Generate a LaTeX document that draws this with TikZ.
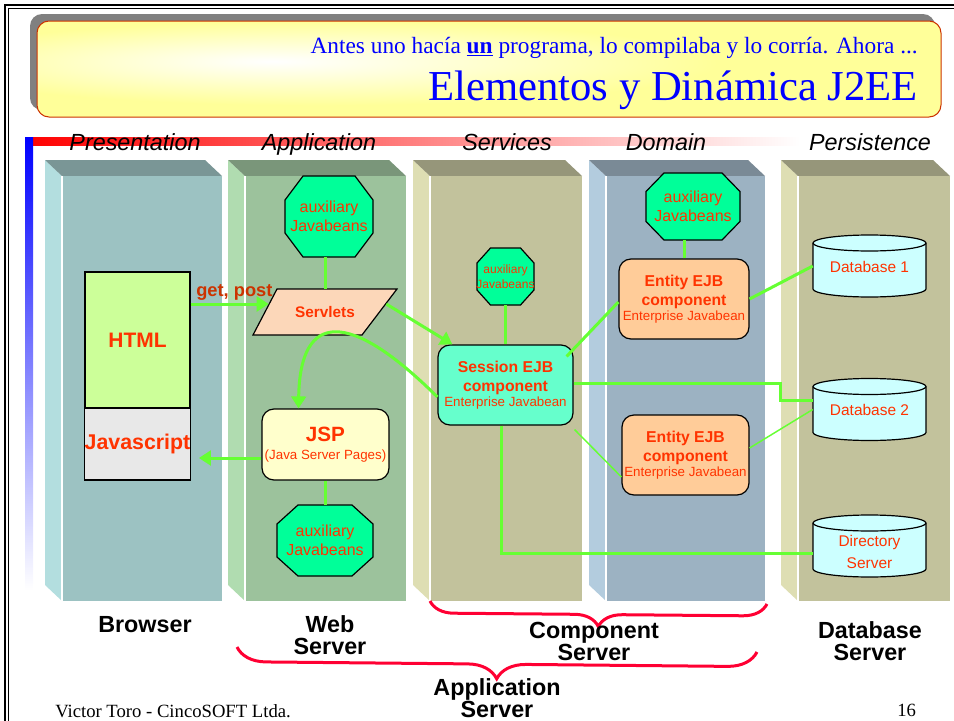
\documentclass[tikz,border=0pt]{standalone}
\usepackage{fontspec}
\setmainfont{Liberation Sans}
\newfontfamily\tnr{Liberation Serif}
\usetikzlibrary{calc,arrows.meta,decorations.pathreplacing}
\definecolor{txtred}{RGB}{255,51,0}
\definecolor{gpred}{RGB}{204,51,0}
\definecolor{lgreen}{RGB}{102,255,51}
\definecolor{octg}{RGB}{0,255,153}
\definecolor{sessg}{RGB}{102,255,204}
\definecolor{entor}{RGB}{255,204,153}
\definecolor{servp}{RGB}{252,215,185}
\definecolor{jspy}{RGB}{255,255,204}
\definecolor{htmlg}{RGB}{204,255,153}
\definecolor{jsg}{RGB}{232,232,232}
\definecolor{dbc}{RGB}{204,255,255}
\definecolor{bracered}{RGB}{255,0,51}
\definecolor{ttl}{RGB}{255,255,153}
\definecolor{ttlborder}{RGB}{204,51,0}
\definecolor{shadowgray}{RGB}{128,128,128}
\definecolor{pTop}{RGB}{122,150,150}\definecolor{pSide}{RGB}{179,222,223}\definecolor{pFront}{RGB}{156,194,194}
\definecolor{aTop}{RGB}{122,150,122}\definecolor{aSide}{RGB}{176,220,176}\definecolor{aFront}{RGB}{156,194,156}
\definecolor{sTop}{RGB}{150,150,122}\definecolor{sSide}{RGB}{222,222,179}\definecolor{sFront}{RGB}{194,194,156}
\definecolor{dTop}{RGB}{122,138,150}\definecolor{dSide}{RGB}{179,204,222}\definecolor{dFront}{RGB}{156,178,194}
\pgfdeclareradialshading{titleshade}{\pgfpoint{-12bp}{4bp}}{color(0bp)=(white); color(10bp)=(ttl!45!white); color(22bp)=(ttl); color(60bp)=(ttl); color(100bp)=(ttl)}
\newcommand\fsz[2]{\fontsize{#1}{#2}\selectfont}
\newcommand\slab[5]{%
 \fill[#3] (#1,160) -- ({#1+17},176) -- ({#1+17},601) -- (#1,585) -- cycle;
 \fill[#4] (#1,160) -- ({#2-17},160) -- (#2,176) -- ({#1+17},176) -- cycle;
 \fill[#5] ({#1+17},176) rectangle (#2,601);
 \draw[white, line width=0.8pt] ({#1+17},176) -- ({#1+17},601);}
\newcommand\octo[9]{%
 \draw[octsty] ({#2-#4/2+#6},{#3-#5/2}) -- ({#2+#4/2-#6},{#3-#5/2}) -- ({#2+#4/2},{#3-#5/2+#7}) -- ({#2+#4/2},{#3+#5/2-#7}) -- ({#2+#4/2-#6},{#3+#5/2}) -- ({#2-#4/2+#6},{#3+#5/2}) -- ({#2-#4/2},{#3+#5/2-#7}) -- ({#2-#4/2},{#3-#5/2+#7}) -- cycle;
 \node[octtxt, font=#8, minimum width={#4*0.75pt}, minimum height={#5*0.75pt}] (#1) at (#2,#3) {#9};}
\newcommand\dbcyl[5]{%
 \coordinate (#1c) at (#2,#3);
 \filldraw[dbsty] ($(#1c)+(-42.375pt,17.25pt)$) -- ($(#1c)+(-42.375pt,-17.25pt)$) arc[start angle=180,end angle=360,x radius=42.375pt,y radius=6pt] -- ($(#1c)+(42.375pt,17.25pt)$) arc[start angle=0,end angle=180,x radius=42.375pt,y radius=6pt] -- cycle;
 \draw[black, line width=0.9pt] ($(#1c)+(-42.375pt,17.25pt)$) arc[start angle=180,end angle=360,x radius=42.375pt,y radius=6pt];
 \node[dbtxt, minimum width=84.75pt, minimum height=46.5pt] (#1) at ($(#1c)+(0,#5)$) {#4};}
\begin{document}
\begin{tikzpicture}[x=0.75pt,y=-0.75pt,
  conn/.style={draw=lgreen, line width=2.25pt},
  thinconn/.style={draw=lgreen, line width=1.1pt},
  arr/.style={conn, -{Triangle[length=9pt,width=11pt]}},
  octsty/.style={draw=black, fill=octg, line width=0.9pt},
  octtxt/.style={inner sep=0, align=center, text=txtred},
  dbsty/.style={draw=black, fill=dbc, line width=0.9pt},
  dbtxt/.style={inner sep=0, align=center, text=txtred, font=\fsz{11.6}{16.5}},
  sqbox/.style={draw=black, line width=0.9pt, inner sep=0, text=txtred, align=center},
  rbox/.style={sqbox, rounded corners=9pt},
  ejb/.style={rbox, minimum height=60pt, font=\fsz{11.8}{14.25}\bfseries},
  hdr/.style={anchor=base, inner sep=0, font=\fsz{17.5}{20}\itshape},
  botlbl/.style={anchor=base, inner sep=0, align=center, font=\fsz{17.5}{16}\bfseries},
  brace/.style={draw=bracered, line width=2.25pt, decorate},
]
\useasboundingbox (0,0) rectangle (954,721);
% frame
\draw[line width=1.5pt] (5,721) -- (5,5) -- (954,5);
\draw[line width=0.6pt] (8.5,721) -- (8.5,8.5) -- (954,8.5);
% title box
\fill[shadowgray, rounded corners=9pt] (30,14) rectangle (935,110);
\shade[shading=titleshade, rounded corners=9pt] (37,21) rectangle (941,117);
\draw[ttlborder, line width=0.75pt, rounded corners=9pt] (37,21) rectangle (941,117);
\node[anchor=base east, inner sep=0, text=blue, font=\tnr\fsz{17.5}{20}] (subtitle) at (918,53)
  {Antes uno hacía \underline{\textbf{un}} programa, lo compilaba y lo corría. Ahora ...};
\node[anchor=base east, inner sep=0, text=blue, font=\tnr\fsz{32}{36}] (title) at (918,100)
  {Elementos y Dinámica J2EE};
% gradient bars
\shade[left color=red, right color=white] (25,137) rectangle (800,145);
\shade[top color=blue, bottom color=white] (25,137) rectangle (33,590);
% headers
\node[hdr] (hP) at (135,150) {Presentation};
\node[hdr] (hA) at (319,150) {Application};
\node[hdr] (hS) at (507,150) {Services};
\node[hdr] (hD) at (666,150) {Domain};
\node[hdr] (hPe) at (870,150) {Persistence};
% columns
\slab{45}{222}{pSide}{pTop}{pFront}
\slab{228}{406}{aSide}{aTop}{aFront}
\slab{413}{582}{sSide}{sTop}{sFront}
\slab{589}{765}{dSide}{dTop}{dFront}
\slab{781}{950}{sSide}{sTop}{sFront}
% presentation
\node[sqbox, fill=htmlg, minimum width=78.75pt, minimum height=102pt, font=\fsz{15.7}{18}\bfseries] (html) at (137.5,340) {HTML};
\node[sqbox, fill=jsg, minimum width=78.75pt, minimum height=54pt, font=\fsz{16}{18}\bfseries] (js) at (137.5,444) {Javascript};
% application
\octo{octA}{329}{216.5}{88}{81}{18}{24}{\fsz{12}{14.25}}{auxiliary\\Javabeans}
\draw[draw=black, fill=servp, line width=0.9pt] (277,289) -- (397,289) -- (362,335) -- (253,335) -- cycle;
\node[inner sep=0, text=txtred, font=\fsz{11.5}{14}\bfseries, minimum width=108pt, minimum height=34.5pt] (servlets) at (325,312) {Servlets};
\node[rbox, fill=jspy, minimum width=95.25pt, minimum height=53.25pt, font=\fsz{10}{13.5}] (jsp) at (325.5,444.5)
  {{\fsz{15.5}{15}\bfseries JSP}\\(Java Server Pages)};
\octo{octC}{325}{540.5}{96}{71}{21}{19}{\fsz{12}{14.25}}{auxiliary\\Javabeans}
% services
\octo{octB}{505.5}{276.5}{57}{57}{13.5}{15}{\fsz{9}{11.25}}{auxiliary\\Javabeans}
\node[ejb, fill=sessg, minimum width=101.25pt] (sess) at (505.5,385)
  {Session EJB\\component\\[-3pt]{\fsz{10}{12}\mdseries Enterprise Javabean}};
% domain
\octo{octD}{693}{206.5}{94}{67}{18}{18.5}{\fsz{12}{14.25}}{auxiliary\\Javabeans}
\node[ejb, fill=entor, minimum width=97.5pt] (ent1) at (684,299)
  {Entity EJB\\component\\[-3pt]{\fsz{10}{12}\mdseries Enterprise Javabean}};
\node[ejb, fill=entor, minimum width=95.25pt] (ent2) at (685.5,455)
  {Entity EJB\\component\\[-3pt]{\fsz{10}{12}\mdseries Enterprise Javabean}};
% persistence
\dbcyl{db1}{869.5}{266}{Database 1}{1}
\dbcyl{db2}{869.5}{409.5}{Database 2}{0}
\dbcyl{dir}{869.5}{546}{Directory\\Server}{6}
% connectors
\draw[conn] (servlets.north) -- (servlets.north |- octA.south);
\draw[arr] ($(html.east)+(0,-36)$) -- node[pos=0.56, above=1.5pt, inner sep=0, text=gpred, font=\fsz{13.7}{16}\bfseries] (gp) {get, post} ($(servlets.west)+(16,-8)$);
\draw[arr] ($(servlets.east)+(-11,-8)$) -- ($(sess.north west)+(15,0)$);
\draw[arr] ($(sess.west)+(0,12)$) .. controls (350,310) and (300,310) .. ($(jsp.north)+(-27,0)$);
\draw[arr] ($(jsp.west)+(0,13.5)$) -- ($(js.east)+(8,14)$);
\draw[conn] (jsp.south) -- (jsp.south |- octC.north);
\draw[conn] (octB.south) -- (octB.south |- sess.north);
\draw[conn] (ent1.north) -- (ent1.north |- octD.south);
\draw[conn] ($(sess.north east)+(-7,12)$) -- ($(ent1.west)+(0,3)$);
\draw[thinconn] ($(sess.south east)+(1,4)$) -- ($(ent2.west)+(0,22)$);
\draw[conn] ($(sess.east)+(0,-2)$) -- ++(207,0) |- ($(db2.west)+(0,-9)$);
\draw[conn] ($(sess.south)+(-4,0)$) |- ($(dir.west)+(0,1)$);
\draw[conn] (ent1.east) -- ($(db1.west)+(0,-1)$);
\draw[thinconn] ($(ent2.east)+(0,-7)$) -- (db2.west);
% braces
\draw[brace, decoration={brace, mirror, amplitude=18pt}] (430,601) -- (767,604);
\draw[brace, decoration={brace, mirror, amplitude=22pt}] (237,647) -- (757,652);
% bottom labels (base = last line)
\node[botlbl] (lBrowser) at (145,632) {Browser};
\node[botlbl] (lWeb) at (330,654) {Web\\Server};
\node[botlbl] (lComp) at (594,660) {Component\\Server};
\node[botlbl] (lDB) at (870,660) {Database\\Server};
\node[botlbl] (lApp) at (497,717) {Application\\Server};
% footer
\node[anchor=base west, inner sep=0, font=\tnr\fsz{14}{16}] (foot) at (55,717) {Victor Toro - CincoSOFT Ltda.};
\node[anchor=base west, inner sep=0, font=\tnr\fsz{14}{16}] (page) at (897,716) {16};
\end{tikzpicture}
\end{document}
